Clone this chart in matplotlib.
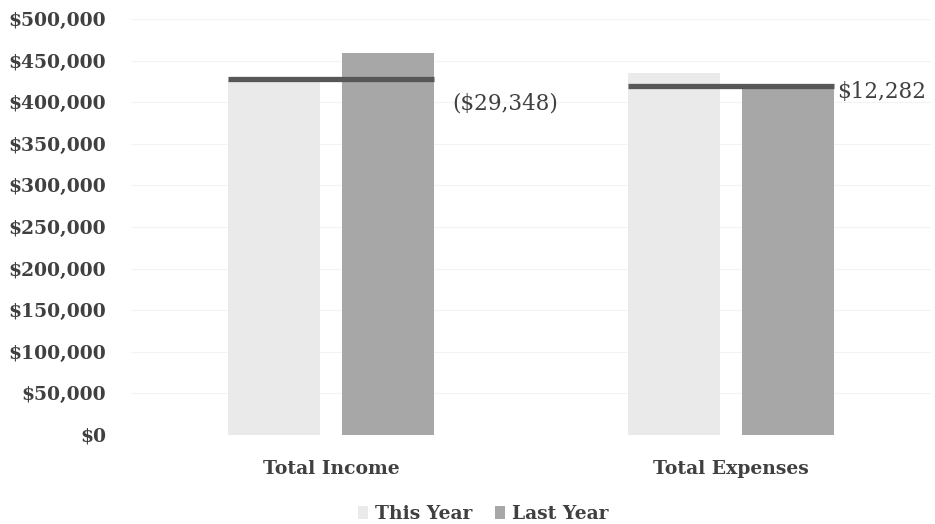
import matplotlib
matplotlib.use("Agg")
import matplotlib.pyplot as plt
from matplotlib.ticker import FuncFormatter
import numpy as np

categories = ["Total Income", "Total Expenses"]
this_year = [427500, 435000]
last_year = [459500, 420000]
differences = ["($29,348)", "$12,282"]
series_names = ["This Year", "Last Year"]

light = "#eaeaea"
dark = "#a7a7a7"
line_col = "#575757"
text_col = "#404040"

fig = plt.figure(figsize=(9.35, 5.24), dpi=100)
ax = fig.add_axes([0.140, 0.170, 0.856, 0.7937])

x = np.arange(len(categories))
w = 0.23
off = 0.1425
ax.bar(x - off, this_year, width=w, color=light, label=series_names[0], zorder=2)
ax.bar(x + off, last_year, width=w, color=dark, label=series_names[1], zorder=2)

for i in range(len(categories)):
    lv = min(this_year[i], last_year[i])
    ax.hlines(lv, x[i] - off - w / 2, x[i] + off + w / 2, colors=line_col,
              linewidth=3.8, zorder=3)

ax.text(x[0] + off + w / 2 + 0.045, 399000, differences[0], fontsize=15.5,
        family="DejaVu Serif", color=text_col, va="center", ha="left")
ax.text(x[1] + off + w / 2 + 0.008, 412000, differences[1], fontsize=15.5,
        family="DejaVu Serif", color=text_col, va="center", ha="left")

ax.set_xlim(-0.5, 1.5)
ax.set_ylim(0, 500000)
ax.set_yticks(np.arange(0, 500001, 50000))
ax.yaxis.set_major_formatter(FuncFormatter(lambda v, p: f"${int(v):,}"))
ax.set_xticks(x)
ax.set_xticklabels(categories)
for lab in ax.get_yticklabels():
    lab.set_family("DejaVu Serif")
    lab.set_fontweight("bold")
    lab.set_color(text_col)
    lab.set_fontsize(13.5)
for lab in ax.get_xticklabels():
    lab.set_family("DejaVu Serif")
    lab.set_fontweight("bold")
    lab.set_color(text_col)
    lab.set_fontsize(13.5)
ax.tick_params(axis="both", length=0)
ax.tick_params(axis="y", pad=18)
ax.tick_params(axis="x", pad=18)
for s in ax.spines.values():
    s.set_visible(False)
ax.yaxis.grid(True, color="#f3f3f3", linewidth=0.8, zorder=0)
ax.set_axisbelow(True)

leg = ax.legend(loc="upper center", bbox_to_anchor=(0.44, -0.128), ncol=2,
                frameon=False, handlelength=0.55, handleheight=0.75,
                handletextpad=0.35, columnspacing=1.2,
                prop={"family": "DejaVu Serif", "weight": "bold", "size": 13.5})
for t in leg.get_texts():
    t.set_color(text_col)

fig.savefig("out.png", dpi=100)
